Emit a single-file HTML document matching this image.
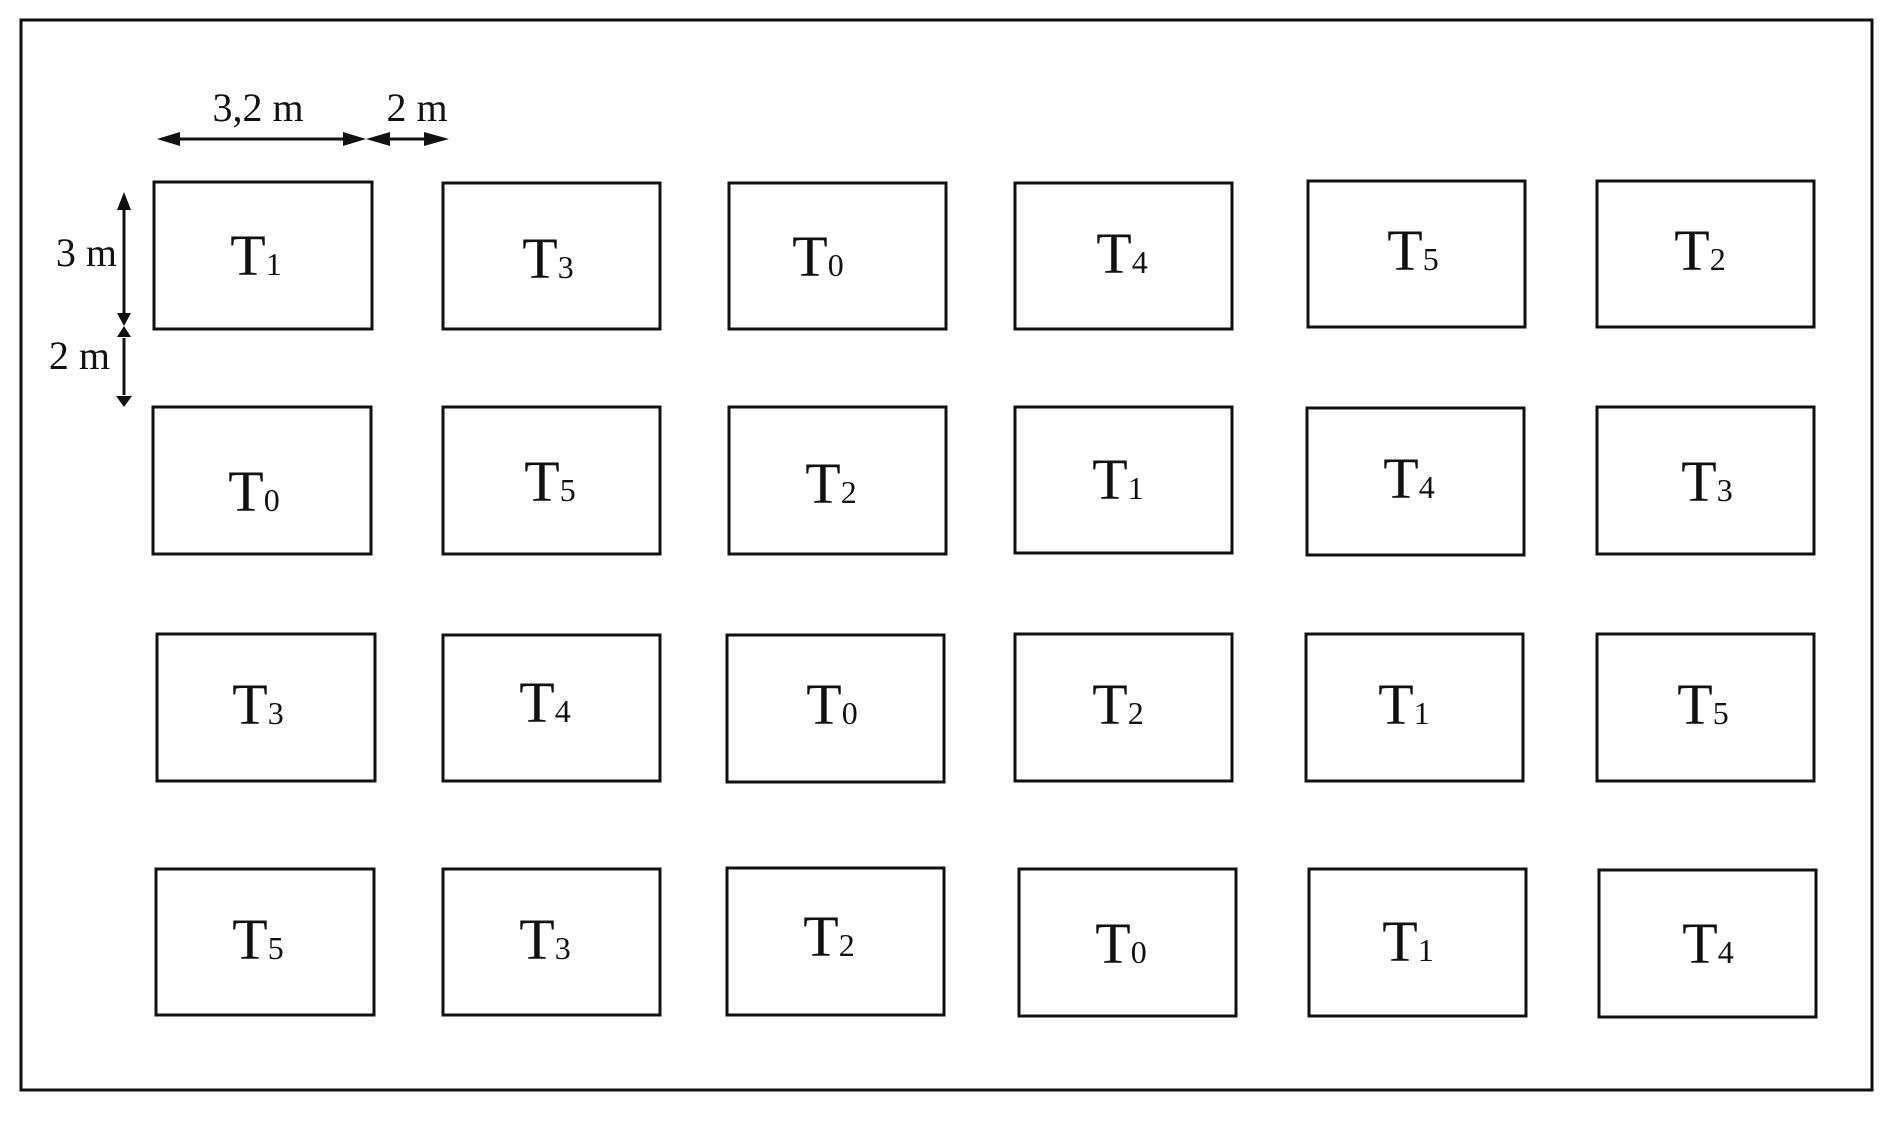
<!DOCTYPE html>
<html><head><style>html,body{margin:0;padding:0;background:#fff}</style></head><body>
<svg width="1892" height="1117" xmlns="http://www.w3.org/2000/svg" font-family="Liberation Serif, serif" fill="#111">
<rect x="21" y="20" width="1851" height="1070" fill="none" stroke="#111" stroke-width="3"/>
<g fill="none" stroke="#111" stroke-width="3">
<rect x="154" y="182" width="218" height="147"/><rect x="443" y="183" width="217" height="146"/><rect x="729" y="183" width="217" height="146"/><rect x="1015" y="183" width="217" height="146"/><rect x="1308" y="181" width="217" height="146"/><rect x="1597" y="181" width="217" height="146"/>
<rect x="153" y="407" width="218" height="147"/><rect x="443" y="407" width="217" height="147"/><rect x="729" y="407" width="217" height="147"/><rect x="1015" y="407" width="217" height="146"/><rect x="1307" y="408" width="217" height="147"/><rect x="1597" y="407" width="217" height="147"/>
<rect x="157" y="634" width="218" height="147"/><rect x="443" y="635" width="217" height="146"/><rect x="727" y="635" width="217" height="147"/><rect x="1015" y="634" width="217" height="147"/><rect x="1306" y="634" width="217" height="147"/><rect x="1597" y="634" width="217" height="147"/>
<rect x="156" y="869" width="218" height="146"/><rect x="443" y="869" width="217" height="146"/><rect x="727" y="868" width="217" height="147"/><rect x="1019" y="869" width="217" height="147"/><rect x="1309" y="869" width="217" height="147"/><rect x="1599" y="870" width="217" height="147"/>
</g>
<g font-size="58" text-anchor="middle">
<text x="256" y="275">T<tspan font-size="32">1</tspan></text>
<text x="548" y="278">T<tspan font-size="32">3</tspan></text>
<text x="818" y="276">T<tspan font-size="32">0</tspan></text>
<text x="1122" y="273">T<tspan font-size="32">4</tspan></text>
<text x="1413" y="270">T<tspan font-size="32">5</tspan></text>
<text x="1700" y="270">T<tspan font-size="32">2</tspan></text>
<text x="254" y="511">T<tspan font-size="32">0</tspan></text>
<text x="550" y="501">T<tspan font-size="32">5</tspan></text>
<text x="831" y="503">T<tspan font-size="32">2</tspan></text>
<text x="1118" y="499">T<tspan font-size="32">1</tspan></text>
<text x="1409" y="498">T<tspan font-size="32">4</tspan></text>
<text x="1707" y="501">T<tspan font-size="32">3</tspan></text>
<text x="258" y="724">T<tspan font-size="32">3</tspan></text>
<text x="545" y="722">T<tspan font-size="32">4</tspan></text>
<text x="832" y="724">T<tspan font-size="32">0</tspan></text>
<text x="1118" y="724">T<tspan font-size="32">2</tspan></text>
<text x="1404" y="724">T<tspan font-size="32">1</tspan></text>
<text x="1703" y="724">T<tspan font-size="32">5</tspan></text>
<text x="258" y="959">T<tspan font-size="32">5</tspan></text>
<text x="545" y="959">T<tspan font-size="32">3</tspan></text>
<text x="829" y="956">T<tspan font-size="32">2</tspan></text>
<text x="1121" y="963">T<tspan font-size="32">0</tspan></text>
<text x="1408" y="961">T<tspan font-size="32">1</tspan></text>
<text x="1708" y="963">T<tspan font-size="32">4</tspan></text>
</g>
<g font-size="40">
<text x="258" y="121" text-anchor="middle">3,2 m</text>
<text x="417" y="121" text-anchor="middle">2 m</text>
<text x="117" y="266" text-anchor="end">3 m</text>
<text x="110" y="369" text-anchor="end">2 m</text>
</g>
<g stroke="#111" stroke-width="3">
<line x1="170" y1="139" x2="352" y2="139"/><line x1="380" y1="139" x2="436" y2="139"/>
<line x1="124" y1="205" x2="124" y2="315"/><line x1="124" y1="338" x2="124" y2="395"/>
</g>
<g>
<polygon points="157,139 180,132 180,146"/><polygon points="366,139 343,132 343,146"/>
<polygon points="366,139 390,132 390,146"/><polygon points="449,139 424,132 424,146"/>
<polygon points="124,192 117,210 131,210"/><polygon points="124,326 117,313 131,313"/>
<polygon points="124,326 117,337 131,337"/><polygon points="124,407 116,396 132,396"/>
</g>
</svg>
</body></html>
